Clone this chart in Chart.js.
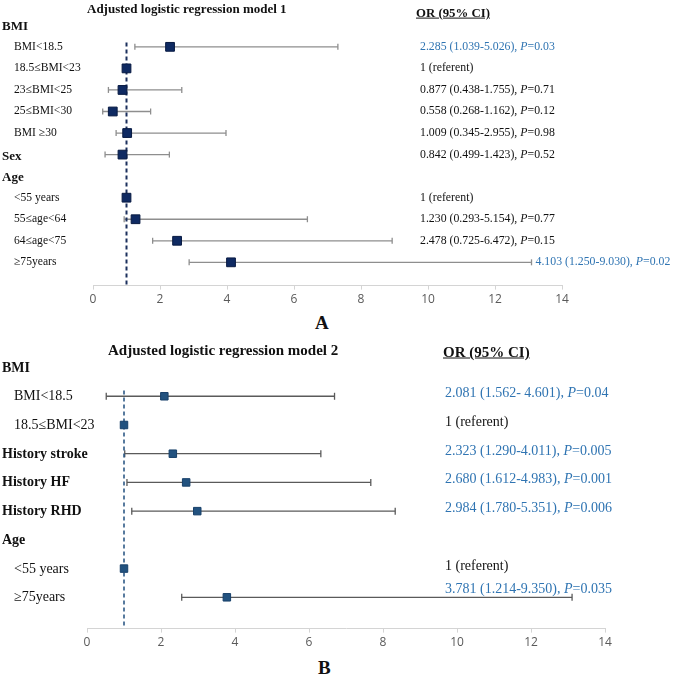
<!DOCTYPE html>
<html>
<head>
<meta charset="utf-8">
<title>Adjusted logistic regression models</title>
<script src="https://cdn.jsdelivr.net/npm/chart.js@4.4.0/dist/chart.umd.min.js"></script>
<style>
  body { margin: 0; background: #fff; }
  #page { position: relative; width: 685px; height: 676px; overflow: hidden;
          font-family: 'Liberation Serif', 'Times New Roman', serif; color: #111; }
  .panel { position: absolute; left: 0; width: 685px; }
  .panel canvas { position: absolute; left: 0; top: 0; }
  .txt { position: absolute; white-space: nowrap; line-height: 1; transform: translateY(-50%); }
  .hdr { font-weight: bold; }
  .blue { color: #2f74b2; }
  .ul { text-decoration: underline; font-weight: bold; }
</style>
</head>
<body>
<div id="page">
  <div class="panel" id="panelA" style="top:0;height:310px"><canvas id="chartA" width="685" height="310"></canvas></div>
  <div class="panel" id="panelB" style="top:340px;height:313px"><canvas id="chartB" width="685" height="313"></canvas></div>
</div>
<script>
// ---- model 1 ----
const rowsA = ['BMI', 'BMI<18.5', '18.5≤BMI<23', '23≤BMI<25', '25≤BMI<30', 'BMI ≥30',
               'Sex', 'Age', '<55 years', '55≤age<64', '64≤age<75', '≥75years'];
const headersA = ['BMI', 'Sex', 'Age'];
const orA = [null, 2.30, 1.0, 0.88, 0.59, 1.02, 0.88, null, 1.0, 1.27, 2.51, 4.12];
const loA = [null, 1.25, null, 0.46, 0.29, 0.69, 0.36, null, null, 0.93, 1.78, 2.87];
const hiA = [null, 7.31, null, 2.65, 1.72, 3.97, 2.28, null, null, 6.40, 8.93, 13.09];
const ciA = [null, '2.285 (1.039-5.026), <i>P</i>=0.03', '1 (referent)', '0.877 (0.438-1.755), <i>P</i>=0.71',
             '0.558 (0.268-1.162), <i>P</i>=0.12', '1.009 (0.345-2.955), <i>P</i>=0.98',
             '0.842 (0.499-1.423), <i>P</i>=0.52', null, '1 (referent)', '1.230 (0.293-5.154), <i>P</i>=0.77',
             '2.478 (0.725-6.472), <i>P</i>=0.15', '4.103 (1.250-9.030), <i>P</i>=0.02'];
const blueA = [1, 11];

// ---- model 2 ----
const rowsB = ['BMI', 'BMI<18.5', '18.5≤BMI<23', 'History stroke', 'History HF', 'History RHD',
               'Age', '<55 years', '≥75years'];
const headersB = ['BMI', 'History stroke', 'History HF', 'History RHD', 'Age'];
const orB = [null, 2.09, 1.0, 2.32, 2.68, 2.98, null, 1.0, 3.78];
const loB = [null, 0.52, null, 1.02, 1.08, 1.21, null, null, 2.56];
const hiB = [null, 6.69, null, 6.32, 7.67, 8.33, null, null, 13.11];
const ciB = [null, '2.081 (1.562- 4.601), <i>P</i>=0.04', '1 (referent)', '2.323 (1.290-4.011), <i>P</i>=0.005',
             '2.680 (1.612-4.983), <i>P</i>=0.001', '2.984 (1.780-5.351), <i>P</i>=0.006', null,
             '1 (referent)', '3.781 (1.214-9.350), <i>P</i>=0.035'];
const blueB = [1, 3, 4, 5, 8];

const xTicks = [0, 2, 4, 6, 8, 10, 12, 14];
const refOR = 1;

function addText(parent, html, x, y, css, cls) {
  const d = document.createElement('div');
  d.className = 'txt ' + (cls || '');
  d.innerHTML = html;
  d.style.left = x + 'px';
  d.style.top = y + 'px';
  Object.assign(d.style, css || {});
  parent.appendChild(d);
  return d;
}

function buildPanel(p) {
  const wrap = document.getElementById(p.wrap);
  const ctx = document.getElementById(p.canvas).getContext('2d');

  // error bars, one small line per row
  const bars = p.rows.map((r, i) => ({
    data: p.lo[i] == null ? [] : [{ x: p.lo[i], y: i }, { x: p.hi[i], y: i }],
    showLine: true,
    borderColor: p.barColor,
    borderWidth: p.barWidth,
    pointStyle: 'line',
    rotation: 90,
    pointRadius: p.cap,
    pointBorderColor: p.barColor,
    pointBorderWidth: p.barWidth,
    clip: false,
    order: 3
  }));

  const refLine = {
    data: [{ x: refOR, y: p.refFrom }, { x: refOR, y: p.refTo }],
    showLine: true,
    borderColor: p.refColor,
    borderWidth: p.refWidth,
    borderDash: [4, 3],
    pointRadius: 0,
    order: 2
  };

  const marks = {
    data: p.or.map((v, i) => v == null ? null : { x: v, y: i }).filter(d => d),
    pointStyle: 'rect',
    pointRadius: p.markSize,
    backgroundColor: p.markColor,
    borderColor: p.markBorder,
    borderWidth: 1,
    clip: false,
    order: 1
  };

  const chart = new Chart(ctx, {
    type: 'scatter',
    data: { datasets: [...bars, refLine, marks] },
    options: {
      responsive: false,
      animation: false,
      events: [],
      layout: { padding: { left: p.left, right: p.right, top: 0, bottom: 0 } },
      plugins: { legend: { display: false }, tooltip: { enabled: false } },
      scales: {
        x: {
          type: 'linear', min: 0, max: 14,
          afterBuildTicks: (s) => { s.ticks = xTicks.map(v => ({ value: v })); },
          ticks: { color: '#5a5a5a', font: { family: 'Open Sans', size: p.tickSize }, padding: 3 },
          grid: { drawOnChartArea: false, drawTicks: true, tickLength: 4, color: '#d4d4d4' },
          border: { display: true, color: '#d4d4d4' }
        },
        y: { type: 'linear', display: false, reverse: true, min: p.yMin, max: p.yMax }
      }
    }
  });

  const ys = chart.scales.y, xs = chart.scales.x;
  p.rows.forEach((r, i) => {
    const head = p.headers.includes(r);
    addText(wrap, r.replace(/</g, '&lt;'), head ? p.headX : p.subX, ys.getPixelForValue(i),
      { fontSize: (head ? p.headSize : p.labelSize) + 'px' }, head ? 'hdr' : '');
    if (p.ci[i]) {
      let tx = p.ciX, ty = ys.getPixelForValue(i) + p.ciShift;
      const barEnd = p.hi[i] != null ? xs.getPixelForValue(p.hi[i]) : 0;
      if (p.ciFollow) tx = Math.max(tx, barEnd + 4);
      else if (barEnd > tx) ty -= 5;   // lift text above a bar running underneath it
      addText(wrap, p.ci[i], tx, ty, { fontSize: p.ciSize + 'px' }, p.blue.includes(i) ? 'blue' : '');
    }
  });
  addText(wrap, p.title, p.titleX, p.titleY, { fontSize: p.titleSize + 'px' }, 'hdr');
  addText(wrap, 'OR (95% CI)', p.orX, p.orY, { fontSize: p.orSize + 'px' }, 'ul');
  addText(wrap, p.tag, p.tagX, p.tagY, { fontSize: '19px' }, 'hdr');
}

buildPanel({
  wrap: 'panelA', canvas: 'chartA',
  rows: rowsA, headers: headersA, or: orA, lo: loA, hi: hiA, ci: ciA, blue: blueA,
  left: 93, right: 123, yMin: -0.84, yMax: 12.08, tickSize: 12,
  barColor: '#8e8e8e', barWidth: 1.3, cap: 3,
  refColor: '#1b2f5c', refWidth: 2, refFrom: 0.8, refTo: 12.08,
  markSize: 6.2, markColor: '#0f2a62', markBorder: '#081a42',
  headX: 2, subX: 14, headSize: 13, labelSize: 11.6,
  ciX: 420, ciFollow: true, ciShift: 0, ciSize: 11.8,
  title: 'Adjusted logistic regression model 1', titleX: 87, titleY: 8, titleSize: 13,
  orX: 416, orY: 13, orSize: 12.8,
  tag: 'A', tagX: 315, tagY: 322
});

buildPanel({
  wrap: 'panelB', canvas: 'chartB',
  rows: rowsB, headers: headersB, or: orB, lo: loB, hi: hiB, ci: ciB, blue: blueB,
  left: 87, right: 80, yMin: -0.74, yMax: 9.09, tickSize: 12,
  barColor: '#5a5a5a', barWidth: 1.3, cap: 3.5,
  refColor: '#2d5986', refWidth: 1.6, refFrom: 0.8, refTo: 9.09,
  markSize: 5.3, markColor: '#22527f', markBorder: '#18406a',
  headX: 2, subX: 14, headSize: 14, labelSize: 14,
  ciX: 445, ciFollow: false, ciShift: -3, ciSize: 14,
  title: 'Adjusted logistic regression model 2', titleX: 108, titleY: 10, titleSize: 15,
  orX: 443, orY: 12, orSize: 15,
  tag: 'B', tagX: 318, tagY: 327
});
</script>
</body>
</html>
